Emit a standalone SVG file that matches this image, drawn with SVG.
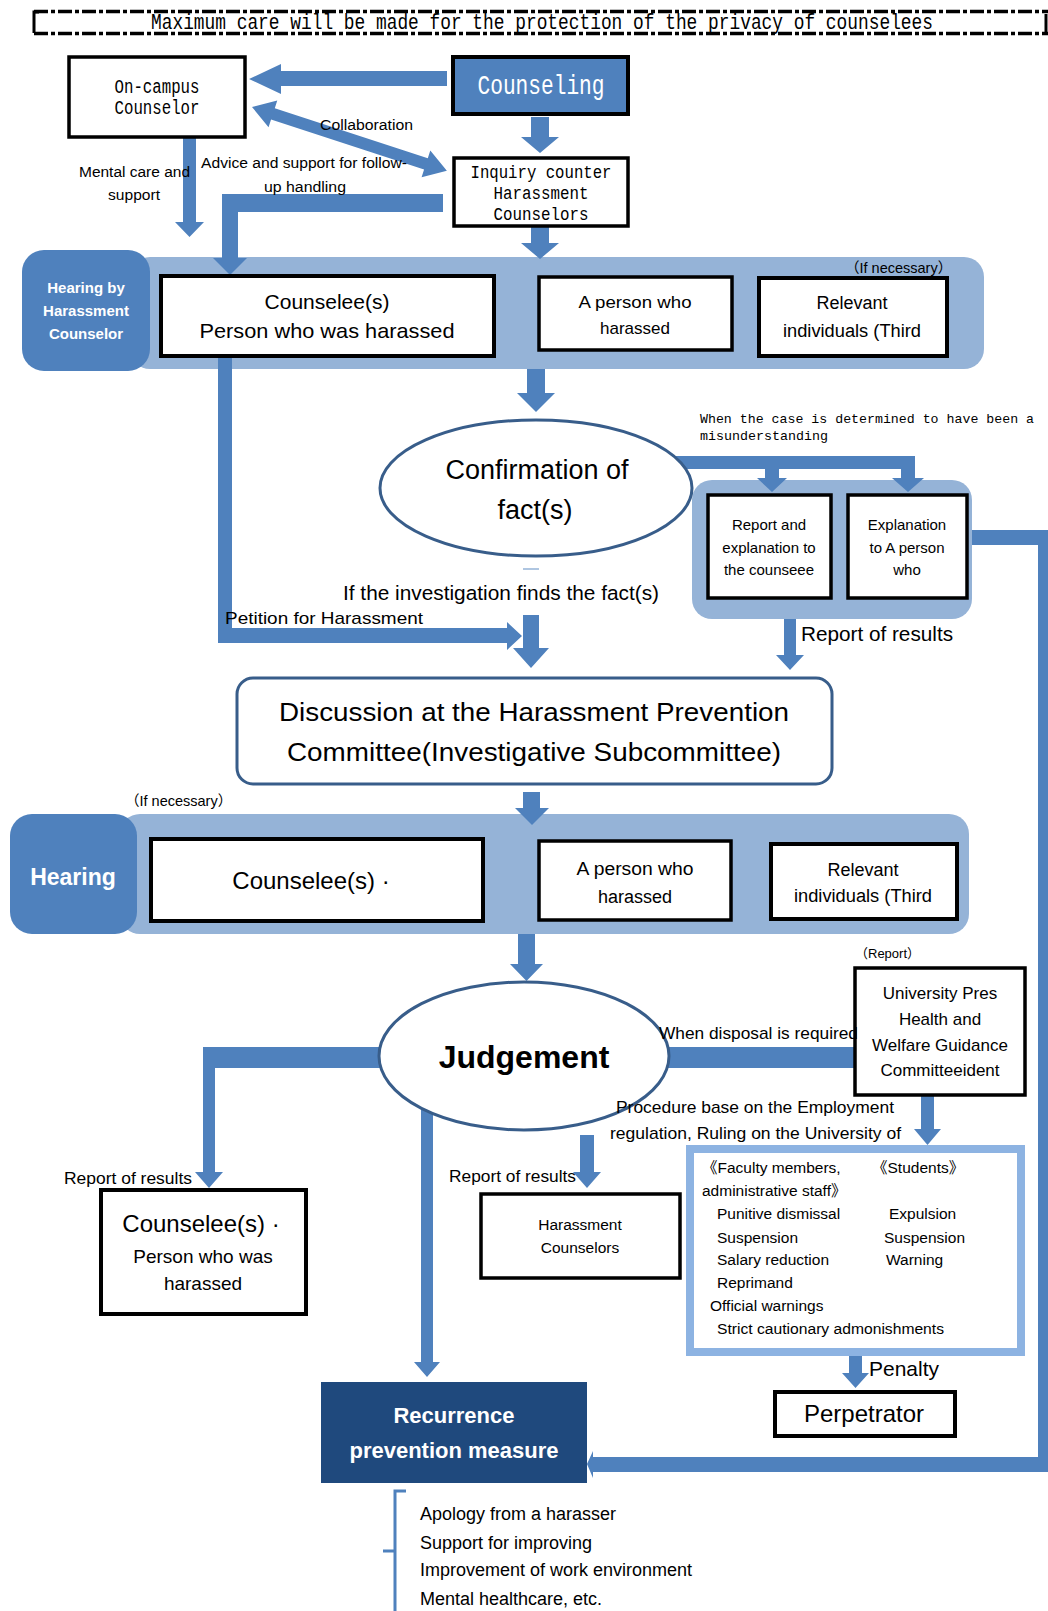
<svg xmlns="http://www.w3.org/2000/svg" width="1048" height="1611" viewBox="0 0 1048 1611">
<style>
.bx{fill:#fff;stroke:#000;stroke-width:3.5}
.bxk{fill:#fff;stroke:#000;stroke-width:4}
.ar{fill:#4f81bd;stroke:none}
.band{fill:#95b3d7}
.dark{fill:#4f81bd}
.t{font-family:"Liberation Sans",Arial,sans-serif;fill:#000}
.m{font-family:"Liberation Mono","DejaVu Sans Mono",monospace;fill:#000}
.c{text-anchor:middle}
.w{fill:#fff;font-weight:bold}
.cjk{font-family:"Liberation Sans","Noto Sans CJK JP",sans-serif;fill:#000}
</style>

<!-- banner -->
<g id="banner">
<line x1="34" y1="11.5" x2="1048" y2="11.5" stroke="#000" stroke-width="3.5" stroke-dasharray="14,3,4,3"/>
<line x1="34" y1="33.5" x2="1048" y2="33.5" stroke="#000" stroke-width="3.5" stroke-dasharray="14,3,4,3"/>
<path d="M39,12 L34,12 L34,33" fill="none" stroke="#000" stroke-width="3"/>
<path d="M1046,14 L1046,33" fill="none" stroke="#000" stroke-width="3"/>
<text class="m" transform="translate(151,29) scale(1,1.18)" x="0" y="0" font-size="18" textLength="782" lengthAdjust="spacingAndGlyphs">Maximum care will be made for the protection of the privacy of counselees</text>
</g>

<!-- bands -->
<g id="band1">
<rect class="band" x="130" y="257" width="854" height="112" rx="20"/>
<rect class="dark" x="22" y="250" width="128" height="121" rx="22"/>
<text class="t w c" font-size="15" x="86" y="293">Hearing by</text>
<text class="t w c" font-size="15" x="86" y="316">Harassment</text>
<text class="t w c" font-size="15" x="86" y="339">Counselor</text>
<text class="cjk" font-size="14.5" x="845" y="273">（If necessary）</text>
</g>
<g id="band2">
<rect class="band" x="120" y="814" width="849" height="120" rx="20"/>
<rect class="dark" x="10" y="814" width="127" height="120" rx="22"/>
<text class="t w c" font-size="23" x="73" y="885">Hearing</text>
<text class="cjk" font-size="14.5" x="125" y="806">（If necessary）</text>
</g>
<g id="band3">
<rect class="band" x="692" y="480" width="280" height="139" rx="20"/>
</g>

<!-- connectors -->
<g id="connectors">
<path class="ar" d="M447,71 L281,71 L281,64 L249,79 L281,94 L281,86 L447,86 Z"/>
<path class="ar" d="M531,117 L549,117 L549,137 L559,137 L540,153 L521,137 L531,137 Z"/>
<g transform="translate(252,107) rotate(18.1)">
<path class="ar" d="M0,0 L22,-14 L22,-6 L183,-6 L183,-14 L205,0 L183,14 L183,6 L22,6 L22,14 Z"/>
</g>
<path class="ar" d="M183,137 L196,137 L196,222 L204,222 L189.5,237 L175,222 L183,222 Z"/>
<path class="ar" d="M443,194 L222,194 L222,258 L213,258 L230,275 L247,258 L238,258 L238,212 L443,212 Z"/>
<path class="ar" d="M531,226 L549,226 L549,243 L559,243 L540,259 L521,243 L531,243 Z"/>
<path class="ar" d="M527,369 L545,369 L545,393 L555,393 L536,412 L517,393 L527,393 Z"/>
<path class="ar" d="M218,356 L232,356 L232,628 L507,628 L507,622 L522,636 L507,650 L507,643 L218,643 Z"/>
<path class="ar" d="M523,615 L539,615 L539,648 L549,648 L531,668 L513,648 L523,648 Z"/>
<line x1="523" y1="569" x2="539" y2="569" stroke="#95b3d7" stroke-width="1.5"/>
<path class="ar" d="M660,456 L915,456 L915,478 L924,478 L908,492 L892,478 L901,478 L901,469 L779,469 L779,478 L787,478 L772,492 L757,478 L765,478 L765,469 L660,469 Z"/>
<path class="ar" d="M784,619 L796,619 L796,655 L804,655 L790,670 L776,655 L784,655 Z"/>
<path class="ar" d="M972,530 L1048,530 L1048,1472 L593,1472 L593,1478 L587,1464 L593,1451 L593,1457 L1038,1457 L1038,545 L972,545 Z"/>
<path class="ar" d="M523,792 L540,792 L540,808 L549,808 L532,825 L515,808 L523,808 Z"/>
<path class="ar" d="M518,934 L535,934 L535,964 L543,964 L526.5,981 L510,964 L518,964 Z"/>
<path class="ar" d="M400,1047 L203,1047 L203,1172 L195,1172 L209,1188 L223,1172 L215,1172 L215,1068 L400,1068 Z"/>
<rect class="ar" x="640" y="1047" width="214" height="21"/>
<path class="ar" d="M421,1100 L433,1100 L433,1362 L440,1362 L427,1377 L414,1362 L421,1362 Z"/>
<path class="ar" d="M580,1135 L594,1135 L594,1172 L601,1172 L587,1188 L573,1172 L580,1172 Z"/>
<path class="ar" d="M921,1095 L934,1095 L934,1129 L941,1129 L927.5,1145 L914,1129 L921,1129 Z"/>
<path class="ar" d="M849,1355 L862,1355 L862,1373 L869,1373 L855.5,1388 L842,1373 L849,1373 Z"/>
<path d="M406,1491 L395,1491 L395,1551 L383,1551 M395,1551 L395,1611" fill="none" stroke="#4f81bd" stroke-width="3"/>
</g>

<!-- nodes -->
<g id="oncampus">
<rect class="bx" x="69" y="57" width="176" height="80"/>
<text class="m c" font-size="20" x="157" y="93" textLength="85" lengthAdjust="spacingAndGlyphs">On-campus</text>
<text class="m c" font-size="20" x="157" y="114" textLength="85" lengthAdjust="spacingAndGlyphs">Counselor</text>
</g>
<g id="counseling">
<rect x="453" y="57" width="175" height="57" fill="#4f81bd" stroke="#000" stroke-width="4"/>
<text class="m c" font-size="27" x="541" y="94" style="fill:#fff" textLength="127" lengthAdjust="spacingAndGlyphs">Counseling</text>
</g>
<g id="inquiry">
<rect class="bx" x="454" y="158" width="174" height="68"/>
<text class="m c" font-size="19" x="541" y="178" textLength="141" lengthAdjust="spacingAndGlyphs">Inquiry counter</text>
<text class="m c" font-size="19" x="541" y="199" textLength="95" lengthAdjust="spacingAndGlyphs">Harassment</text>
<text class="m c" font-size="19" x="541" y="220" textLength="95" lengthAdjust="spacingAndGlyphs">Counselors</text>
</g>
<g id="counselee1">
<rect class="bxk" x="161" y="276" width="333" height="80"/>
<text class="t c" font-size="21" x="327" y="309">Counselee(s)</text>
<text class="t c" font-size="21" x="327" y="338" textLength="255" lengthAdjust="spacingAndGlyphs">Person who was harassed</text>
</g>
<g id="person1">
<rect class="bx" x="539" y="277" width="193" height="73"/>
<text class="t c" font-size="17" x="635" y="308" textLength="113" lengthAdjust="spacingAndGlyphs">A person who</text>
<text class="t c" font-size="17" x="635" y="334">harassed</text>
</g>
<g id="relevant1">
<rect class="bxk" x="759" y="278" width="188" height="78"/>
<text class="t c" font-size="18" x="852" y="309">Relevant</text>
<text class="t c" font-size="18" x="852" y="337" textLength="138" lengthAdjust="spacingAndGlyphs">individuals (Third</text>
</g>
<g id="confirmation">
<ellipse cx="536" cy="488" rx="156" ry="68" fill="#fff" stroke="#385d8a" stroke-width="3"/>
<text class="t c" font-size="27" x="537" y="479">Confirmation of</text>
<text class="t c" font-size="27" x="535" y="519">fact(s)</text>
</g>
<g id="report-counselee">
<rect class="bx" x="708" y="495" width="123" height="103" stroke-width="2.5"/>
<text class="t c" font-size="15" x="769" y="530">Report and</text>
<text class="t c" font-size="15" x="769" y="553">explanation to</text>
<text class="t c" font-size="15" x="769" y="575">the counseee</text>
</g>
<g id="explanation">
<rect class="bx" x="848" y="495" width="119" height="103" stroke-width="2.5"/>
<text class="t c" font-size="15" x="907" y="530">Explanation</text>
<text class="t c" font-size="15" x="907" y="553">to A person</text>
<text class="t c" font-size="15" x="907" y="575">who</text>
</g>
<g id="discussion">
<rect x="237" y="678" width="595" height="106" rx="16" fill="#fff" stroke="#385d8a" stroke-width="3"/>
<text class="t c" font-size="26" x="534" y="721" textLength="510" lengthAdjust="spacingAndGlyphs">Discussion at the Harassment Prevention</text>
<text class="t c" font-size="26" x="534" y="761" textLength="494" lengthAdjust="spacingAndGlyphs">Committee(Investigative Subcommittee)</text>
</g>
<g id="counselee2">
<rect class="bxk" x="151" y="839" width="332" height="82"/>
<text class="t c" font-size="24" x="311" y="889">Counselee(s) ·</text>
</g>
<g id="person2">
<rect class="bx" x="539" y="841" width="192" height="79"/>
<text class="t c" font-size="18" x="635" y="875" textLength="117" lengthAdjust="spacingAndGlyphs">A person who</text>
<text class="t c" font-size="18" x="635" y="903">harassed</text>
</g>
<g id="relevant2">
<rect class="bxk" x="771" y="844" width="186" height="75"/>
<text class="t c" font-size="18" x="863" y="876">Relevant</text>
<text class="t c" font-size="18" x="863" y="902" textLength="138" lengthAdjust="spacingAndGlyphs">individuals (Third</text>
</g>
<g id="judgement">
<ellipse cx="524" cy="1056" rx="145" ry="74" fill="#fff" stroke="#385d8a" stroke-width="3"/>
<text class="t c" font-size="32" font-weight="bold" x="524" y="1068">Judgement</text>
</g>
<g id="university">
<rect class="bx" x="855" y="968" width="170" height="127" stroke-width="2.5"/>
<text class="t c" font-size="17" x="940" y="999">University Pres</text>
<text class="t c" font-size="17" x="940" y="1025">Health and</text>
<text class="t c" font-size="17" x="940" y="1051">Welfare Guidance</text>
<text class="t c" font-size="17" x="940" y="1076">Committeeident</text>
</g>
<g id="penalties">
<rect x="690" y="1149" width="331" height="203" fill="#fff" stroke="#8db3e2" stroke-width="8"/>
<text class="cjk" font-size="15.5" x="702" y="1173">《Faculty members,</text>
<text class="cjk" font-size="15.5" x="872" y="1173">《Students》</text>
<text class="cjk" font-size="15.5" x="702" y="1196">administrative staff》</text>
<text class="t" font-size="15.5" x="717" y="1219">Punitive dismissal</text>
<text class="t" font-size="15.5" x="889" y="1219">Expulsion</text>
<text class="t" font-size="15.5" x="717" y="1243">Suspension</text>
<text class="t" font-size="15.5" x="884" y="1243">Suspension</text>
<text class="t" font-size="15.5" x="717" y="1265">Salary reduction</text>
<text class="t" font-size="15.5" x="886" y="1265">Warning</text>
<text class="t" font-size="15.5" x="717" y="1288">Reprimand</text>
<text class="t" font-size="15.5" x="710" y="1311">Official warnings</text>
<text class="t" font-size="15.5" x="717" y="1334" textLength="227" lengthAdjust="spacingAndGlyphs">Strict cautionary admonishments</text>
</g>
<g id="hcounselors">
<rect class="bx" x="481" y="1194" width="199" height="84"/>
<text class="t c" font-size="15.5" x="580" y="1230" fill="#222">Harassment</text>
<text class="t c" font-size="15.5" x="580" y="1253" fill="#222">Counselors</text>
</g>
<g id="counselee3">
<rect class="bxk" x="101" y="1190" width="205" height="124"/>
<text class="t c" font-size="24" x="201" y="1232">Counselee(s) ·</text>
<text class="t c" font-size="19" x="203" y="1263">Person who was</text>
<text class="t c" font-size="19" x="203" y="1290">harassed</text>
</g>
<g id="perpetrator">
<rect class="bxk" x="775" y="1392" width="180" height="44"/>
<text class="t c" font-size="24" x="864" y="1422">Perpetrator</text>
</g>
<g id="recurrence">
<rect x="321" y="1382" width="266" height="101" fill="#1f497d"/>
<text class="t w c" font-size="22" x="454" y="1423">Recurrence</text>
<text class="t w c" font-size="22" x="454" y="1458">prevention measure</text>
</g>
<g id="measures">
<text class="t" font-size="18" x="420" y="1520">Apology from a harasser</text>
<text class="t" font-size="18" x="420" y="1549">Support for improving</text>
<text class="t" font-size="18" x="420" y="1576">Improvement of work environment</text>
<text class="t" font-size="18" x="420" y="1605">Mental healthcare, etc.</text>
</g>

<!-- labels on connectors -->
<g id="labels">
<text class="t" font-size="14" x="320" y="130" textLength="93" lengthAdjust="spacingAndGlyphs">Collaboration</text>
<text class="t" font-size="14" x="79" y="177" textLength="111" lengthAdjust="spacingAndGlyphs">Mental care and</text>
<text class="t" font-size="14" x="108" y="200" textLength="52" lengthAdjust="spacingAndGlyphs">support</text>
<text class="t" font-size="14" x="201" y="168" textLength="206" lengthAdjust="spacingAndGlyphs">Advice and support for follow-</text>
<text class="t" font-size="14" x="264" y="192" textLength="82" lengthAdjust="spacingAndGlyphs">up handling</text>
<text class="m" font-size="13" x="700" y="423" textLength="334" lengthAdjust="spacingAndGlyphs">When the case is determined to have been a</text>
<text class="m" font-size="13" x="700" y="440" textLength="128" lengthAdjust="spacingAndGlyphs">misunderstanding</text>
<text class="t" font-size="20.5" x="343" y="600" textLength="316" lengthAdjust="spacingAndGlyphs">If the investigation finds the fact(s)</text>
<text class="t" font-size="17" x="225" y="624" textLength="198" lengthAdjust="spacingAndGlyphs">Petition for Harassment</text>
<text class="t" font-size="20" x="801" y="641" textLength="152" lengthAdjust="spacingAndGlyphs">Report of results</text>
<text class="cjk" font-size="13" x="855" y="958">（Report）</text>
<text class="t" font-size="17" x="659" y="1039" textLength="199" lengthAdjust="spacingAndGlyphs">When disposal is required</text>
<text class="t" font-size="17" x="616" y="1113" textLength="278" lengthAdjust="spacingAndGlyphs">Procedure base on the Employment</text>
<text class="t" font-size="17" x="610" y="1139" textLength="291" lengthAdjust="spacingAndGlyphs">regulation, Ruling on the University of</text>
<text class="t" font-size="17" x="64" y="1184" textLength="128" lengthAdjust="spacingAndGlyphs">Report of results</text>
<text class="t" font-size="17" x="449" y="1182" textLength="127" lengthAdjust="spacingAndGlyphs">Report of results</text>
<text class="t" font-size="21" x="869" y="1376" textLength="70" lengthAdjust="spacingAndGlyphs">Penalty</text>
</g>
</svg>
